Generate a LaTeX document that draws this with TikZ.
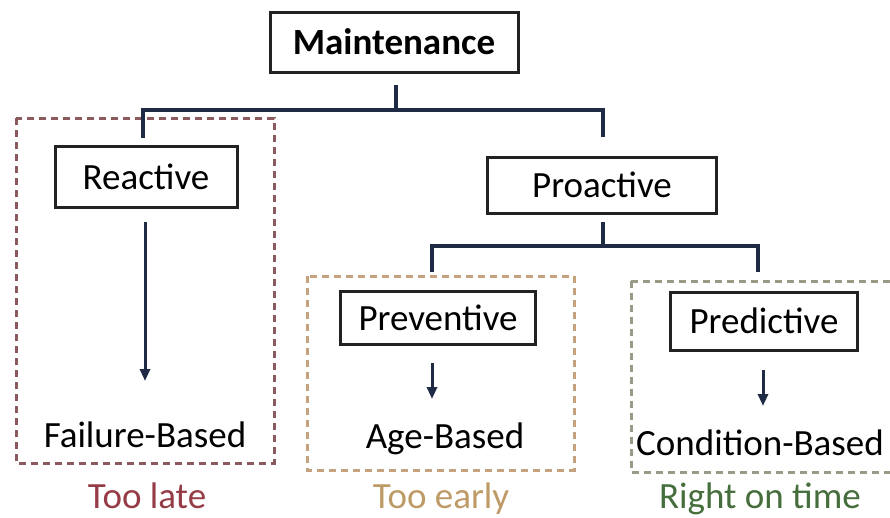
\documentclass[tikz,border=0pt]{standalone}
\usepackage{fontspec}
\setmainfont{Carlito}
\usetikzlibrary{arrows.meta}
\definecolor{navy}{HTML}{1F2A44}
\definecolor{boxc}{HTML}{222222}
\definecolor{redd}{HTML}{8A5A5E}
\definecolor{tand}{HTML}{C4A27E}
\definecolor{grnd}{HTML}{9A9A86}
\definecolor{latec}{HTML}{963C46}
\definecolor{earlyc}{HTML}{BE9A66}
\definecolor{timec}{HTML}{456E3C}
\tikzset{
  x=1pt, y=-1pt,
  fbox/.style={draw=boxc, line width=3pt, fill=white, inner sep=0pt, font=\fontsize{37}{40}\selectfont},
  conn/.style={draw=navy, line width=3.2pt},
  arr/.style={draw=navy, line width=3pt, -{Triangle[length=12pt,width=10pt]}},
  dbox/.style={line width=3pt, dash pattern=on 7pt off 5pt},
  plain/.style={inner sep=0pt, font=\fontsize{37}{40}\selectfont},
}
\begin{document}
\begin{tikzpicture}
\useasboundingbox (0,0) rectangle (890,517);
% dashed groups
\draw[dbox, draw=redd] (16,118) rectangle (274,463);
\draw[dbox, draw=tand] (307,276) rectangle (574,470);
\draw[dbox, draw=grnd] (631,281) -- (631,472) -- (892,472);
\draw[dbox, draw=grnd] (631,281) -- (892,281);
% boxes
\node[fbox, minimum width=248pt, minimum height=60pt, font=\fontsize{37}{40}\selectfont\bfseries] (main) at (394,42) {Maintenance};
\node[fbox, minimum width=182pt, minimum height=61pt] (react) at (146,177) {Reactive};
\node[fbox, minimum width=229pt, minimum height=56pt] (proact) at (602,185) {Proactive};
\node[fbox, minimum width=195pt, minimum height=53pt] (prev) at (438,318) {Preventive};
\node[fbox, minimum width=187pt, minimum height=58pt] (pred) at (764,321) {Predictive};
% texts
\node[plain] (fail) at (145,435) {Failure-Based};
\node[plain] (age) at (445,439) {Age-Based};
\node[plain, anchor=west] (cond) at (636,443) {Condition-Based};
\node[plain, text=latec, anchor=base] (late) at (147,508) {Too late};
\node[plain, text=earlyc, anchor=base] (early) at (441,508) {Too early};
\node[plain, text=timec, anchor=base] (ontime) at (760,508) {Right on time};
% connectors
\coordinate (m1) at (396,85);
\coordinate (m2) at (396,110);
\coordinate (l1) at (143,110);
\coordinate (l2) at (143,138);
\coordinate (r1) at (603,110);
\coordinate (r2) at (603,137);
\draw[conn] (m1) -- (m2);
\draw[conn] (l2) -- (l1) -- (r1) -- (r2);
\coordinate (p1) at (603,222);
\coordinate (p2) at (603,246);
\coordinate (a1) at (432,246);
\coordinate (a2) at (432,272);
\coordinate (b1) at (758,246);
\coordinate (b2) at (758,272);
\draw[conn] (p1) -- (p2);
\draw[conn] (a2) -- (a1) -- (b1) -- (b2);
% arrows
\draw[arr] (145,222) -- (145,381);
\draw[arr] (432,363) -- (432,399);
\draw[arr] (763,370) -- (763,406);
\end{tikzpicture}
\end{document}
